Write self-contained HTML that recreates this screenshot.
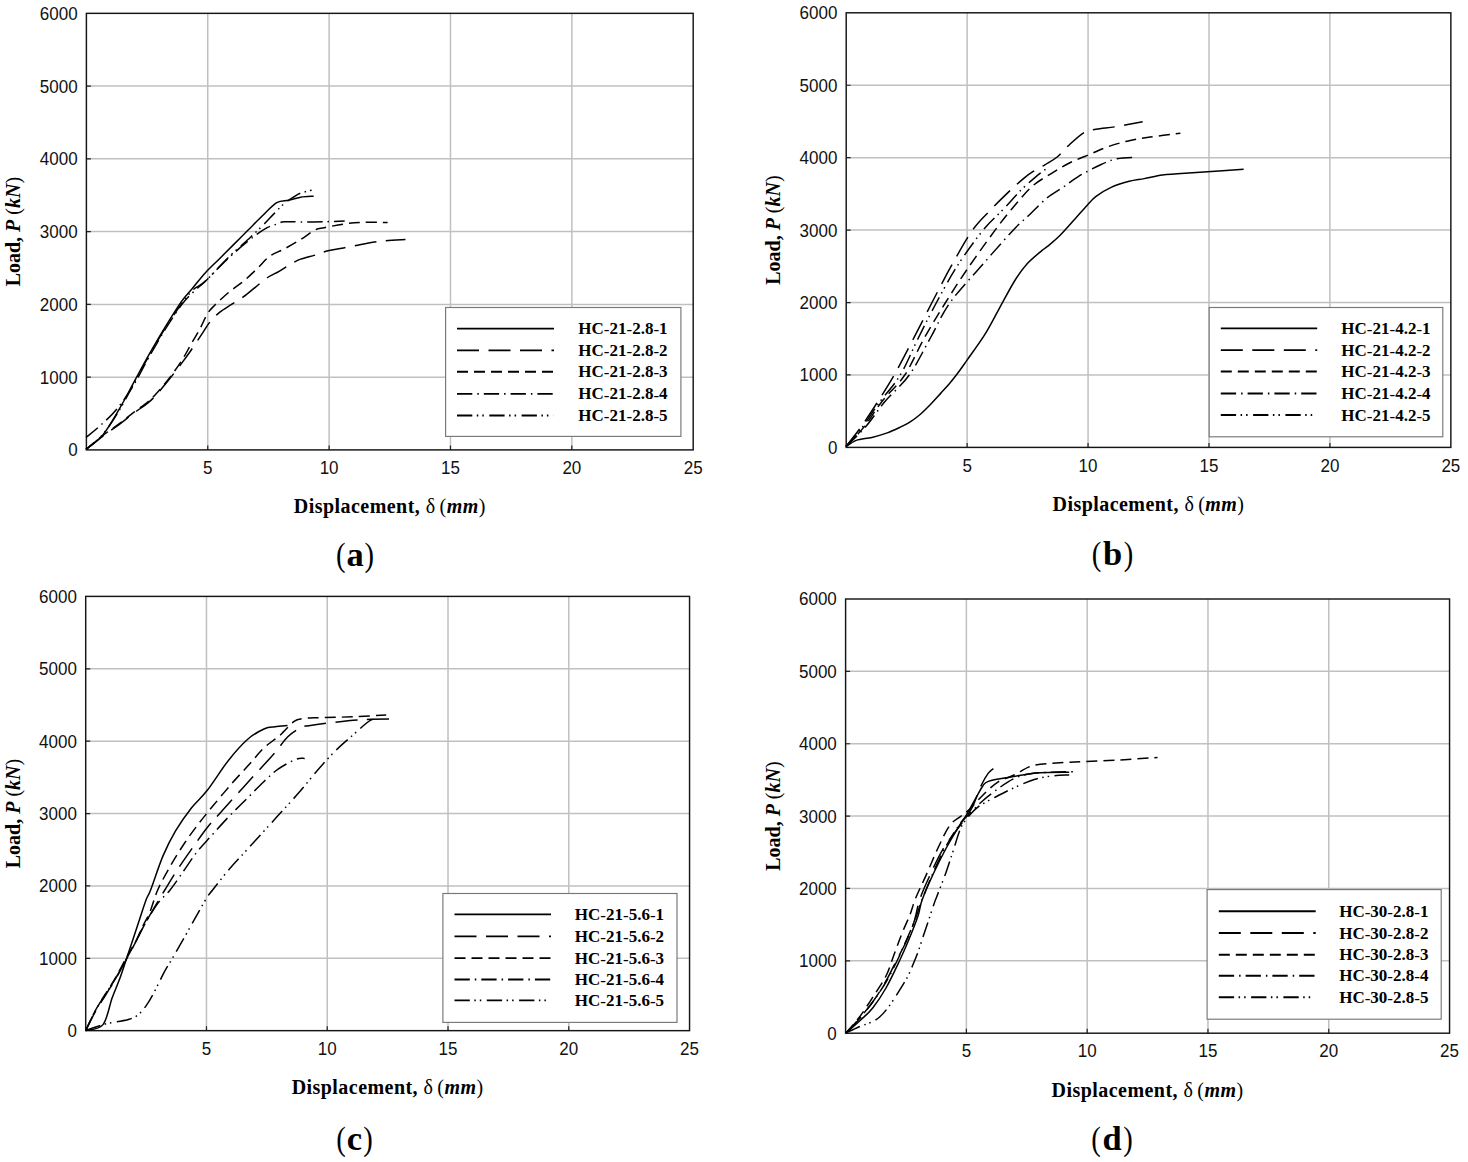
<!DOCTYPE html><html><head><meta charset="utf-8"><style>html,body{margin:0;padding:0;background:#fff;}body{width:1468px;height:1162px;overflow:hidden;}svg{display:block;}.tk{font-family:"Liberation Sans",sans-serif;font-size:17px;fill:#111;}.ax{font-family:"Liberation Serif",serif;font-size:20px;font-weight:bold;fill:#000;}.lg{font-family:"Liberation Serif",serif;font-size:17px;font-weight:bold;fill:#000;}.cp{font-family:"Liberation Serif",serif;font-size:34.5px;fill:#000;}</style></head><body>
<svg width="1468" height="1162" viewBox="0 0 1468 1162">
<rect x="0" y="0" width="1468" height="1162" fill="#fff"/>
<g stroke="#c0c0c0" stroke-width="1.5" fill="none"><line x1="207.76" y1="13.35" x2="207.76" y2="449.9"/><line x1="329.12" y1="13.35" x2="329.12" y2="449.9"/><line x1="450.48" y1="13.35" x2="450.48" y2="449.9"/><line x1="571.84" y1="13.35" x2="571.84" y2="449.9"/><line x1="86.4" y1="377.14" x2="693.2" y2="377.14"/><line x1="86.4" y1="304.38" x2="693.2" y2="304.38"/><line x1="86.4" y1="231.62" x2="693.2" y2="231.62"/><line x1="86.4" y1="158.87" x2="693.2" y2="158.87"/><line x1="86.4" y1="86.11" x2="693.2" y2="86.11"/></g>
<path d="M207.76 449.9V445.4M329.12 449.9V445.4M450.48 449.9V445.4M571.84 449.9V445.4M86.4 377.14H90.9M86.4 304.38H90.9M86.4 231.62H90.9M86.4 158.87H90.9M86.4 86.11H90.9" stroke="#222" stroke-width="1.2" fill="none"/>
<rect x="86.4" y="13.35" width="606.8" height="436.55" fill="none" stroke="#151515" stroke-width="1.45"/>
<text class="tk" transform="translate(77.6 456.3) scale(1 1.1)" text-anchor="end">0</text>
<text class="tk" transform="translate(77.6 383.54) scale(1 1.1)" text-anchor="end">1000</text>
<text class="tk" transform="translate(77.6 310.78) scale(1 1.1)" text-anchor="end">2000</text>
<text class="tk" transform="translate(77.6 238.03) scale(1 1.1)" text-anchor="end">3000</text>
<text class="tk" transform="translate(77.6 165.27) scale(1 1.1)" text-anchor="end">4000</text>
<text class="tk" transform="translate(77.6 92.51) scale(1 1.1)" text-anchor="end">5000</text>
<text class="tk" transform="translate(77.6 19.75) scale(1 1.1)" text-anchor="end">6000</text>
<text class="tk" transform="translate(207.76 474) scale(1 1.1)" text-anchor="middle">5</text>
<text class="tk" transform="translate(329.12 474) scale(1 1.1)" text-anchor="middle">10</text>
<text class="tk" transform="translate(450.48 474) scale(1 1.1)" text-anchor="middle">15</text>
<text class="tk" transform="translate(571.84 474) scale(1 1.1)" text-anchor="middle">20</text>
<text class="tk" transform="translate(693.2 474) scale(1 1.1)" text-anchor="middle">25</text>
<text class="ax" x="389.8" y="513.2" text-anchor="middle" letter-spacing="0.45">Displacement, <tspan font-weight="normal">δ </tspan><tspan font-weight="normal" dx="-1.5">(</tspan><tspan font-style="italic">mm</tspan><tspan font-weight="normal">)</tspan></text>
<text class="ax" transform="translate(20.4 231.62) rotate(-90)" x="0" y="0" text-anchor="middle">Load, <tspan font-style="italic">P</tspan> <tspan font-weight="normal">(</tspan><tspan font-style="italic">kN</tspan><tspan font-weight="normal">)</tspan></text>
<text class="cp" transform="translate(340.8 565.5) scale(0.83 1)" text-anchor="middle">(</text>
<text class="cp" x="355" y="565.5" text-anchor="middle" font-weight="bold">a</text>
<text class="cp" transform="translate(369.2 565.5) scale(0.83 1)" text-anchor="middle">)</text>
<path d="M86 449.41C88.78 447.03 97.13 441.86 102.69 435.11C108.25 428.35 114.21 417.62 119.38 408.88C124.54 400.14 128.92 391.4 133.68 382.66C138.45 373.91 142.82 365.57 147.99 356.43C153.15 347.29 159.12 336.96 164.68 327.82C170.24 318.68 176.6 308.35 181.37 301.59C186.14 294.84 189.32 292.06 193.29 287.29C197.26 282.52 200.84 277.75 205.21 272.98C209.58 268.22 214.75 263.45 219.51 258.68C224.28 253.91 229.05 249.14 233.82 244.37C238.59 239.6 243.36 234.84 248.13 230.07C252.89 225.3 257.66 220.33 262.43 215.76C267.2 211.19 272.36 205.23 276.74 202.65C281.11 200.07 284.68 201.18 288.66 200.27C292.63 199.35 296.41 197.84 300.58 197.17C304.75 196.49 311.51 196.37 313.69 196.21" fill="none" stroke="#000" stroke-width="1.5" stroke-linejoin="round"/>
<path d="M86 449.41C88.78 447.23 97.13 440.47 102.69 436.3C108.25 432.13 114.21 428.23 119.38 424.38C124.54 420.53 128.92 416.75 133.68 413.17C138.45 409.6 144.02 406.22 147.99 402.92C151.96 399.62 153.95 397.36 157.53 393.39C161.1 389.41 165.47 384.05 169.45 379.08C173.42 374.11 177.79 368.35 181.37 363.58C184.94 358.81 187.33 355.64 190.9 350.47C194.48 345.3 199.65 337.36 202.83 332.59C206 327.82 207.2 325.24 209.98 321.86C212.76 318.48 215.94 315.22 219.51 312.32C223.09 309.42 227.46 307.04 231.44 304.46C235.41 301.87 239.38 299.69 243.36 296.83C247.33 293.96 251.3 290.47 255.28 287.29C259.25 284.11 263.23 280.41 267.2 277.75C271.17 275.09 275.15 273.62 279.12 271.31C283.09 269.01 287.46 265.95 291.04 263.92C294.62 261.9 296.6 260.63 300.58 259.16C304.55 257.69 310.51 256.45 314.88 255.1C319.25 253.75 322.04 252.24 326.8 251.05C331.57 249.86 336.74 249.26 343.49 247.95C350.25 246.64 360.58 244.37 367.34 243.18C374.09 241.99 377.67 241.39 384.02 240.8C390.38 240.2 401.91 239.8 405.48 239.6" fill="none" stroke="#000" stroke-width="1.5" stroke-linejoin="round" stroke-dasharray="22 9.5"/>
<path d="M86 449.41C88.78 447.11 97.13 439.88 102.69 435.59C108.25 431.29 114.21 427.52 119.38 423.66C124.54 419.81 128.92 416.11 133.68 412.46C138.45 408.8 144.02 405.11 147.99 401.73C151.96 398.35 153.95 396.17 157.53 392.19C161.1 388.22 165.47 383.05 169.45 377.89C173.42 372.72 177.79 366.76 181.37 361.2C184.94 355.64 187.73 350.07 190.9 344.51C194.08 338.95 197.66 332.99 200.44 327.82C203.22 322.65 205.21 317.29 207.59 313.51C209.98 309.74 211.17 308.75 214.75 305.17C218.32 301.59 224.28 296.03 229.05 292.06C233.82 288.08 238.59 285.3 243.36 281.33C248.13 277.35 253.29 272.39 257.66 268.22C262.03 264.04 265.21 259.47 269.58 256.29C273.95 253.12 278.72 251.92 283.89 249.14C289.05 246.36 295.41 242.78 300.58 239.6C305.74 236.43 310.91 232.05 314.88 230.07C318.86 228.08 319.65 228.68 324.42 227.68C329.19 226.69 337.53 224.98 343.49 224.11C349.45 223.23 352.83 222.72 360.18 222.44C367.53 222.16 383.03 222.44 387.6 222.44" fill="none" stroke="#000" stroke-width="1.5" stroke-linejoin="round" stroke-dasharray="11 6"/>
<path d="M86 437.49C88.38 435.51 95.14 430.34 100.31 425.57C105.47 420.8 111.43 415.64 116.99 408.88C122.56 402.13 128.52 393.39 133.68 385.04C138.85 376.7 142.82 367.95 147.99 358.81C153.15 349.68 159.12 339.15 164.68 330.2C170.24 321.26 176.6 311.53 181.37 305.17C186.14 298.81 189.32 296.03 193.29 292.06C197.26 288.08 199.25 287.09 205.21 281.33C211.17 275.57 221.1 264.84 229.05 257.49C237 250.14 246.54 242.19 252.89 237.22C259.25 232.25 263.23 229.87 267.2 227.68C271.17 225.5 273.95 225.1 276.74 224.11C279.52 223.11 279.91 222.08 283.89 221.72C287.86 221.37 293.82 221.96 300.58 221.96C307.33 221.96 317.07 221.88 324.42 221.72C331.77 221.56 341.31 221.13 344.69 221.01" fill="none" stroke="#000" stroke-width="1.5" stroke-linejoin="round" stroke-dasharray="15.3 5 1.5 5"/>
<path d="M86 449.41C88.78 446.95 97.13 441.19 102.69 434.63C108.25 428.08 114.21 418.54 119.38 410.07C124.54 401.61 128.92 392.59 133.68 383.85C138.45 375.11 142.82 366.76 147.99 357.62C153.15 348.48 159.12 337.95 164.68 329.01C170.24 320.07 176.6 310.53 181.37 303.98C186.14 297.42 189.32 293.45 193.29 289.67C197.26 285.9 199.25 286.81 205.21 281.33C211.17 275.84 221.5 264.12 229.05 256.77C236.6 249.42 244.95 242.39 250.51 237.22C256.07 232.05 258.46 229.75 262.43 225.78C266.4 221.8 270.78 217.03 274.35 213.38C277.93 209.72 280.71 206.54 283.89 203.84C287.07 201.14 290.64 198.95 293.43 197.17C296.21 195.38 297.4 194.31 300.58 193.11C303.76 191.92 310.51 190.53 312.5 190.01" fill="none" stroke="#000" stroke-width="1.5" stroke-linejoin="round" stroke-dasharray="15.3 4.5 1.5 4 1.5 5.5"/>
<rect x="445.6" y="307.5" width="235.3" height="128.9" fill="#fff" stroke="#777" stroke-width="1.15"/>
<line x1="457" y1="328.6" x2="554" y2="328.6" stroke="#000" stroke-width="1.85"/>
<text class="lg" x="578.3" y="334.1">HC<tspan font-weight="normal" dy="1.2">-</tspan><tspan dy="-1.2">21</tspan><tspan font-weight="normal" dy="1.2">-</tspan><tspan dy="-1.2">2.8</tspan><tspan font-weight="normal" dy="1.2">-</tspan><tspan dy="-1.2">1</tspan></text>
<line x1="457" y1="350.4" x2="554" y2="350.4" stroke="#000" stroke-width="1.85" stroke-dasharray="22 9.5"/>
<text class="lg" x="578.3" y="355.9">HC<tspan font-weight="normal" dy="1.2">-</tspan><tspan dy="-1.2">21</tspan><tspan font-weight="normal" dy="1.2">-</tspan><tspan dy="-1.2">2.8</tspan><tspan font-weight="normal" dy="1.2">-</tspan><tspan dy="-1.2">2</tspan></text>
<line x1="457" y1="371.7" x2="554" y2="371.7" stroke="#000" stroke-width="1.85" stroke-dasharray="11 6"/>
<text class="lg" x="578.3" y="377.2">HC<tspan font-weight="normal" dy="1.2">-</tspan><tspan dy="-1.2">21</tspan><tspan font-weight="normal" dy="1.2">-</tspan><tspan dy="-1.2">2.8</tspan><tspan font-weight="normal" dy="1.2">-</tspan><tspan dy="-1.2">3</tspan></text>
<line x1="457" y1="393.8" x2="554" y2="393.8" stroke="#000" stroke-width="1.85" stroke-dasharray="15.3 5 1.5 5"/>
<text class="lg" x="578.3" y="399.3">HC<tspan font-weight="normal" dy="1.2">-</tspan><tspan dy="-1.2">21</tspan><tspan font-weight="normal" dy="1.2">-</tspan><tspan dy="-1.2">2.8</tspan><tspan font-weight="normal" dy="1.2">-</tspan><tspan dy="-1.2">4</tspan></text>
<line x1="457" y1="415.5" x2="554" y2="415.5" stroke="#000" stroke-width="1.85" stroke-dasharray="15.3 4.5 1.5 4 1.5 5.5"/>
<text class="lg" x="578.3" y="421">HC<tspan font-weight="normal" dy="1.2">-</tspan><tspan dy="-1.2">21</tspan><tspan font-weight="normal" dy="1.2">-</tspan><tspan dy="-1.2">2.8</tspan><tspan font-weight="normal" dy="1.2">-</tspan><tspan dy="-1.2">5</tspan></text>
<g stroke="#c0c0c0" stroke-width="1.5" fill="none"><line x1="967.13" y1="12.8" x2="967.13" y2="447.4"/><line x1="1088.06" y1="12.8" x2="1088.06" y2="447.4"/><line x1="1208.99" y1="12.8" x2="1208.99" y2="447.4"/><line x1="1329.92" y1="12.8" x2="1329.92" y2="447.4"/><line x1="846.2" y1="374.97" x2="1450.85" y2="374.97"/><line x1="846.2" y1="302.53" x2="1450.85" y2="302.53"/><line x1="846.2" y1="230.1" x2="1450.85" y2="230.1"/><line x1="846.2" y1="157.67" x2="1450.85" y2="157.67"/><line x1="846.2" y1="85.23" x2="1450.85" y2="85.23"/></g>
<path d="M967.13 447.4V442.9M1088.06 447.4V442.9M1208.99 447.4V442.9M1329.92 447.4V442.9M846.2 374.97H850.7M846.2 302.53H850.7M846.2 230.1H850.7M846.2 157.67H850.7M846.2 85.23H850.7" stroke="#222" stroke-width="1.2" fill="none"/>
<rect x="846.2" y="12.8" width="604.65" height="434.6" fill="none" stroke="#151515" stroke-width="1.45"/>
<text class="tk" transform="translate(837.4 453.8) scale(1 1.1)" text-anchor="end">0</text>
<text class="tk" transform="translate(837.4 381.37) scale(1 1.1)" text-anchor="end">1000</text>
<text class="tk" transform="translate(837.4 308.93) scale(1 1.1)" text-anchor="end">2000</text>
<text class="tk" transform="translate(837.4 236.5) scale(1 1.1)" text-anchor="end">3000</text>
<text class="tk" transform="translate(837.4 164.07) scale(1 1.1)" text-anchor="end">4000</text>
<text class="tk" transform="translate(837.4 91.63) scale(1 1.1)" text-anchor="end">5000</text>
<text class="tk" transform="translate(837.4 19.2) scale(1 1.1)" text-anchor="end">6000</text>
<text class="tk" transform="translate(967.13 471.5) scale(1 1.1)" text-anchor="middle">5</text>
<text class="tk" transform="translate(1088.06 471.5) scale(1 1.1)" text-anchor="middle">10</text>
<text class="tk" transform="translate(1208.99 471.5) scale(1 1.1)" text-anchor="middle">15</text>
<text class="tk" transform="translate(1329.92 471.5) scale(1 1.1)" text-anchor="middle">20</text>
<text class="tk" transform="translate(1450.85 471.5) scale(1 1.1)" text-anchor="middle">25</text>
<text class="ax" x="1148.53" y="510.7" text-anchor="middle" letter-spacing="0.45">Displacement, <tspan font-weight="normal">δ </tspan><tspan font-weight="normal" dx="-1.5">(</tspan><tspan font-style="italic">mm</tspan><tspan font-weight="normal">)</tspan></text>
<text class="ax" transform="translate(780.2 230.1) rotate(-90)" x="0" y="0" text-anchor="middle">Load, <tspan font-style="italic">P</tspan> <tspan font-weight="normal">(</tspan><tspan font-style="italic">kN</tspan><tspan font-weight="normal">)</tspan></text>
<text class="cp" transform="translate(1096.41 565.4) scale(0.83 1)" text-anchor="middle">(</text>
<text class="cp" x="1112.5" y="565.4" text-anchor="middle" font-weight="bold">b</text>
<text class="cp" transform="translate(1128.59 565.4) scale(0.83 1)" text-anchor="middle">)</text>
<path d="M846 446.74C847.71 445.68 851.92 441.97 856.24 440.41C860.56 438.86 866.74 438.65 871.91 437.4C877.08 436.14 882.65 434.54 887.27 432.88C891.89 431.22 895.86 429.27 899.62 427.46C903.39 425.65 906.4 424.24 909.86 422.04C913.33 419.83 916.94 417.17 920.41 414.2C923.87 411.24 927.24 407.78 930.65 404.26C934.07 400.75 937.78 396.53 940.89 393.12C944.01 389.7 946.57 387.04 949.33 383.78C952.09 380.51 954.6 377.35 957.46 373.53C960.32 369.72 961.98 367.31 966.5 360.88C971.02 354.46 979.05 343.81 984.57 334.97C990.1 326.14 994.62 316.9 999.64 307.86C1004.66 298.82 1010.18 288.03 1014.7 280.75C1019.22 273.47 1022.23 269.2 1026.75 264.18C1031.27 259.16 1038.3 253.64 1041.81 250.62C1045.33 247.61 1044.82 248.62 1047.84 246.11C1050.85 243.6 1055.37 240.08 1059.89 235.56C1064.41 231.04 1070.43 224.01 1074.95 218.99C1079.47 213.97 1083.48 209.2 1087 205.44C1090.51 201.67 1092.02 199.41 1096.04 196.4C1100.05 193.39 1105.58 189.87 1111.1 187.36C1116.62 184.85 1123.65 182.79 1129.17 181.34C1134.7 179.88 1138.71 179.68 1144.24 178.63C1149.76 177.57 1156.79 175.81 1162.31 175.01C1167.83 174.21 1169.84 174.36 1177.37 173.81C1184.91 173.25 1196.45 172.45 1207.5 171.7C1218.54 170.94 1237.62 169.69 1243.65 169.29" fill="none" stroke="#000" stroke-width="1.5" stroke-linejoin="round"/>
<path d="M846 446.44C848.51 443.17 856.04 433.88 861.06 426.86C866.08 419.83 870.6 412.9 876.12 404.26C881.65 395.63 888.17 385.58 894.2 375.04C900.22 364.5 906 353.05 912.27 341C918.55 328.95 925.33 315.29 931.86 302.74C938.38 290.19 944.66 277.79 951.44 265.69C958.22 253.59 966 239.43 972.52 230.14C979.05 220.85 984.57 216.33 990.6 209.96C996.62 203.58 1003.15 197.15 1008.67 191.88C1014.2 186.61 1019.72 181.69 1023.74 178.32C1027.75 174.96 1029.26 173.96 1032.77 171.7C1036.29 169.44 1040.81 167.18 1044.82 164.77C1048.84 162.36 1052.86 160.5 1056.87 157.24C1060.89 153.97 1064.41 149.3 1068.92 145.19C1073.44 141.07 1079.47 135.2 1083.99 132.53C1088.51 129.87 1090.51 130.23 1096.04 129.22C1101.56 128.22 1109.34 127.77 1117.12 126.51C1124.91 125.25 1138.46 122.49 1142.73 121.69" fill="none" stroke="#000" stroke-width="1.5" stroke-linejoin="round" stroke-dasharray="22 9.5"/>
<path d="M846 446.44C849.01 443.17 858.05 434.39 864.07 426.86C870.1 419.32 875.37 409.88 882.15 401.25C888.93 392.61 897.71 385.58 904.74 375.04C911.77 364.5 917.55 350.04 924.32 337.99C931.1 325.94 938.38 314.04 945.41 302.74C952.44 291.44 958.22 282.31 966.5 270.21C974.78 258.11 987.08 240.93 995.12 230.14C1003.15 219.34 1008.42 212.82 1014.7 205.44C1020.98 198.06 1026.75 191.13 1032.77 185.86C1038.8 180.58 1044.82 177.57 1050.85 173.81C1056.87 170.04 1062.4 166.53 1068.92 163.26C1075.45 160 1083.48 156.99 1090.01 154.22C1096.54 151.46 1101.56 148.95 1108.09 146.69C1114.61 144.43 1122.14 142.28 1129.17 140.67C1136.2 139.06 1141.73 138.31 1150.26 137.05C1158.8 135.8 1175.37 133.79 1180.39 133.14" fill="none" stroke="#000" stroke-width="1.5" stroke-linejoin="round" stroke-dasharray="11 6"/>
<path d="M846 446.44C849.26 443.17 859.05 434.39 865.58 426.86C872.11 419.32 877.88 409.88 885.16 401.25C892.44 392.61 901.73 385.58 909.26 375.04C916.79 364.5 923.57 350.04 930.35 337.99C937.13 325.94 941.4 314.79 949.93 302.74C958.47 290.69 971.02 277.79 981.56 265.69C992.11 253.59 1005.16 238.67 1013.19 230.14C1021.23 221.6 1024.19 219.8 1029.76 214.47C1035.34 209.15 1041.11 202.73 1046.63 198.21C1052.15 193.69 1057.63 190.98 1062.9 187.36C1068.17 183.75 1071.89 180.33 1078.26 176.52C1084.64 172.7 1094.68 167.43 1101.16 164.47C1107.63 161.51 1111.2 159.95 1117.12 158.74C1123.05 157.54 1133.44 157.49 1136.71 157.24" fill="none" stroke="#000" stroke-width="1.5" stroke-linejoin="round" stroke-dasharray="15.3 5 1.5 5"/>
<path d="M846 446.44C848.76 443.17 857.05 434.14 862.57 426.86C868.09 419.58 872.86 411.39 879.14 402.76C885.41 394.12 893.7 385.84 900.22 375.04C906.75 364.25 912.27 350.04 918.3 337.99C924.32 325.94 929.85 314.79 936.37 302.74C942.9 290.69 949.68 277.79 957.46 265.69C965.24 253.59 975.54 239.43 983.07 230.14C990.6 220.85 996.37 216.58 1002.65 209.96C1008.93 203.33 1015.2 195.9 1020.72 190.37C1026.25 184.85 1031.17 180.68 1035.79 176.82C1040.41 172.95 1046.33 168.79 1048.44 167.18" fill="none" stroke="#000" stroke-width="1.5" stroke-linejoin="round" stroke-dasharray="15.3 4.5 1.5 4 1.5 5.5"/>
<rect x="1209.2" y="307.5" width="233.6" height="129.3" fill="#fff" stroke="#777" stroke-width="1.15"/>
<line x1="1220.8" y1="328.3" x2="1317.2" y2="328.3" stroke="#000" stroke-width="1.85"/>
<text class="lg" x="1341.3" y="333.8">HC<tspan font-weight="normal" dy="1.2">-</tspan><tspan dy="-1.2">21</tspan><tspan font-weight="normal" dy="1.2">-</tspan><tspan dy="-1.2">4.2</tspan><tspan font-weight="normal" dy="1.2">-</tspan><tspan dy="-1.2">1</tspan></text>
<line x1="1220.8" y1="350.1" x2="1317.2" y2="350.1" stroke="#000" stroke-width="1.85" stroke-dasharray="22 9.5"/>
<text class="lg" x="1341.3" y="355.6">HC<tspan font-weight="normal" dy="1.2">-</tspan><tspan dy="-1.2">21</tspan><tspan font-weight="normal" dy="1.2">-</tspan><tspan dy="-1.2">4.2</tspan><tspan font-weight="normal" dy="1.2">-</tspan><tspan dy="-1.2">2</tspan></text>
<line x1="1220.8" y1="371.5" x2="1317.2" y2="371.5" stroke="#000" stroke-width="1.85" stroke-dasharray="11 6"/>
<text class="lg" x="1341.3" y="377">HC<tspan font-weight="normal" dy="1.2">-</tspan><tspan dy="-1.2">21</tspan><tspan font-weight="normal" dy="1.2">-</tspan><tspan dy="-1.2">4.2</tspan><tspan font-weight="normal" dy="1.2">-</tspan><tspan dy="-1.2">3</tspan></text>
<line x1="1220.8" y1="393.5" x2="1317.2" y2="393.5" stroke="#000" stroke-width="1.85" stroke-dasharray="15.3 5 1.5 5"/>
<text class="lg" x="1341.3" y="399">HC<tspan font-weight="normal" dy="1.2">-</tspan><tspan dy="-1.2">21</tspan><tspan font-weight="normal" dy="1.2">-</tspan><tspan dy="-1.2">4.2</tspan><tspan font-weight="normal" dy="1.2">-</tspan><tspan dy="-1.2">4</tspan></text>
<line x1="1220.8" y1="415" x2="1317.2" y2="415" stroke="#000" stroke-width="1.85" stroke-dasharray="15.3 4.5 1.5 4 1.5 5.5"/>
<text class="lg" x="1341.3" y="420.5">HC<tspan font-weight="normal" dy="1.2">-</tspan><tspan dy="-1.2">21</tspan><tspan font-weight="normal" dy="1.2">-</tspan><tspan dy="-1.2">4.2</tspan><tspan font-weight="normal" dy="1.2">-</tspan><tspan dy="-1.2">5</tspan></text>
<g stroke="#c0c0c0" stroke-width="1.5" fill="none"><line x1="206.47" y1="596.4" x2="206.47" y2="1030.65"/><line x1="327.24" y1="596.4" x2="327.24" y2="1030.65"/><line x1="448.01" y1="596.4" x2="448.01" y2="1030.65"/><line x1="568.78" y1="596.4" x2="568.78" y2="1030.65"/><line x1="85.7" y1="958.28" x2="689.55" y2="958.28"/><line x1="85.7" y1="885.9" x2="689.55" y2="885.9"/><line x1="85.7" y1="813.53" x2="689.55" y2="813.53"/><line x1="85.7" y1="741.15" x2="689.55" y2="741.15"/><line x1="85.7" y1="668.78" x2="689.55" y2="668.78"/></g>
<path d="M206.47 1030.65V1026.15M327.24 1030.65V1026.15M448.01 1030.65V1026.15M568.78 1030.65V1026.15M85.7 958.28H90.2M85.7 885.9H90.2M85.7 813.53H90.2M85.7 741.15H90.2M85.7 668.78H90.2" stroke="#222" stroke-width="1.2" fill="none"/>
<rect x="85.7" y="596.4" width="603.85" height="434.25" fill="none" stroke="#151515" stroke-width="1.45"/>
<text class="tk" transform="translate(76.9 1037.05) scale(1 1.1)" text-anchor="end">0</text>
<text class="tk" transform="translate(76.9 964.68) scale(1 1.1)" text-anchor="end">1000</text>
<text class="tk" transform="translate(76.9 892.3) scale(1 1.1)" text-anchor="end">2000</text>
<text class="tk" transform="translate(76.9 819.93) scale(1 1.1)" text-anchor="end">3000</text>
<text class="tk" transform="translate(76.9 747.55) scale(1 1.1)" text-anchor="end">4000</text>
<text class="tk" transform="translate(76.9 675.18) scale(1 1.1)" text-anchor="end">5000</text>
<text class="tk" transform="translate(76.9 602.8) scale(1 1.1)" text-anchor="end">6000</text>
<text class="tk" transform="translate(206.47 1054.75) scale(1 1.1)" text-anchor="middle">5</text>
<text class="tk" transform="translate(327.24 1054.75) scale(1 1.1)" text-anchor="middle">10</text>
<text class="tk" transform="translate(448.01 1054.75) scale(1 1.1)" text-anchor="middle">15</text>
<text class="tk" transform="translate(568.78 1054.75) scale(1 1.1)" text-anchor="middle">20</text>
<text class="tk" transform="translate(689.55 1054.75) scale(1 1.1)" text-anchor="middle">25</text>
<text class="ax" x="387.62" y="1093.95" text-anchor="middle" letter-spacing="0.45">Displacement, <tspan font-weight="normal">δ </tspan><tspan font-weight="normal" dx="-1.5">(</tspan><tspan font-style="italic">mm</tspan><tspan font-weight="normal">)</tspan></text>
<text class="ax" transform="translate(19.7 813.53) rotate(-90)" x="0" y="0" text-anchor="middle">Load, <tspan font-style="italic">P</tspan> <tspan font-weight="normal">(</tspan><tspan font-style="italic">kN</tspan><tspan font-weight="normal">)</tspan></text>
<text class="cp" transform="translate(341.1 1150) scale(0.83 1)" text-anchor="middle">(</text>
<text class="cp" x="354.5" y="1150" text-anchor="middle" font-weight="bold">c</text>
<text class="cp" transform="translate(367.9 1150) scale(0.83 1)" text-anchor="middle">)</text>
<path d="M85.75 1030.5C88.62 1029.52 98.59 1030.07 103 1024.6C107.41 1019.13 109.37 1005.45 112.2 997.7C115.03 989.95 117.6 984.63 120 978.1C122.4 971.57 124.42 965.03 126.6 958.5C128.78 951.97 130.93 945.45 133.1 938.9C135.27 932.35 137.42 925.75 139.6 919.2C141.78 912.65 144.37 904.47 146.2 899.6C148.03 894.73 147.8 897.28 150.6 890C153.4 882.72 158.87 865.72 163 855.9C167.13 846.08 170.67 839.08 175.4 831.1C180.13 823.12 186.08 814.8 191.4 808C196.72 801.2 201.1 798.27 207.3 790.3C213.5 782.33 221.82 768.75 228.6 760.2C235.38 751.65 242.02 744.23 248 739C253.98 733.77 260 730.83 264.5 728.8C269 726.77 271.17 727.33 275 726.8C278.83 726.27 285.42 725.8 287.5 725.6" fill="none" stroke="#000" stroke-width="1.5" stroke-linejoin="round"/>
<path d="M85.75 1030.5C87.33 1027.42 91.89 1017.92 95.2 1012C98.51 1006.08 102.12 1000.67 105.6 995C109.08 989.33 112.6 984 116.1 978C119.6 972 123.33 965 126.6 959C129.87 953 132.87 947.5 135.7 942C138.53 936.5 140.33 932 143.6 926C146.87 920 151.77 912 155.3 906C158.83 900 161.15 896 164.8 890C168.45 884 172.48 877.17 177.2 870C181.92 862.83 188.08 854.08 193.1 847C198.12 839.92 202.87 833.1 207.3 827.5C211.73 821.9 214.68 819 219.7 813.4C224.72 807.8 231.5 800.4 237.4 793.9C243.3 787.4 248.9 781.2 255.1 774.4C261.3 767.6 269.15 759.37 274.6 753.1C280.05 746.83 283.35 741.07 287.8 736.8C292.25 732.53 297.82 729.35 301.3 727.5C304.78 725.65 303.8 726.5 308.7 725.7C313.6 724.9 321.72 723.72 330.7 722.7C339.68 721.68 351.97 720.22 362.6 719.6C373.23 718.98 389.18 719.1 394.5 719" fill="none" stroke="#000" stroke-width="1.5" stroke-linejoin="round" stroke-dasharray="22 9.5"/>
<path d="M85.75 1030.5C87.33 1027.22 91.89 1016.92 95.2 1010.8C98.51 1004.68 102.12 999.47 105.6 993.8C109.08 988.13 112.6 982.9 116.1 976.8C119.6 970.7 123.33 963.08 126.6 957.2C129.87 951.32 132.87 946.95 135.7 941.5C138.53 936.05 141.22 929.42 143.6 924.5C145.98 919.58 147.65 917.75 150 912C152.35 906.25 154.35 897.58 157.7 890C161.05 882.42 165.67 874.25 170.1 866.5C174.53 858.75 179.58 850.58 184.3 843.5C189.02 836.42 193.68 830.2 198.4 824C203.12 817.8 206.98 813.1 212.6 806.3C218.22 799.5 225.9 790.28 232.1 783.2C238.3 776.12 244.48 769.7 249.8 763.8C255.12 757.9 258.98 752.53 264 747.8C269.02 743.07 274.88 739.82 279.9 735.4C284.92 730.98 290.25 724.1 294.1 721.3C297.95 718.5 299.17 719.2 303 718.6C306.83 718 308.85 718 317.1 717.7C325.35 717.4 340.98 717.25 352.5 716.8C364.02 716.35 380.58 715.3 386.2 715" fill="none" stroke="#000" stroke-width="1.5" stroke-linejoin="round" stroke-dasharray="11 6"/>
<path d="M85.75 1030.5C87.33 1027.25 91.89 1017.08 95.2 1011C98.51 1004.92 102.12 999.58 105.6 994C109.08 988.42 112.6 983.42 116.1 977.5C119.6 971.58 123.28 964.58 126.6 958.5C129.92 952.42 132.77 947.08 136 941C139.23 934.92 142.33 928.33 146 922C149.67 915.67 153.98 908.33 158 903C162.02 897.67 165.72 895.5 170.1 890C174.48 884.5 179.87 876.28 184.3 870C188.73 863.72 192.28 857.9 196.7 852.3C201.12 846.7 205.48 842.3 210.8 836.4C216.12 830.5 222.68 823.1 228.6 816.9C234.52 810.7 240.4 805.1 246.3 799.2C252.2 793.3 258.7 786.52 264 781.5C269.3 776.48 272.78 772.8 278.1 769.1C283.42 765.4 291.47 761.08 295.9 759.3C300.33 757.52 303.23 758.55 304.7 758.4" fill="none" stroke="#000" stroke-width="1.5" stroke-linejoin="round" stroke-dasharray="15.3 5 1.5 5"/>
<path d="M85.75 1030.5C88.62 1029.52 97.94 1026.02 103 1024.6C108.06 1023.18 111.73 1022.88 116.1 1022C120.47 1021.12 125.5 1020.52 129.2 1019.3C132.9 1018.08 135.47 1016.98 138.3 1014.7C141.13 1012.42 143.58 1009.3 146.2 1005.6C148.82 1001.9 150.95 998.17 154 992.5C157.05 986.83 161.45 977.27 164.5 971.6C167.55 965.93 169.25 963.73 172.3 958.5C175.35 953.27 179.08 946.75 182.8 940.2C186.52 933.65 190.67 926.18 194.6 919.2C198.53 912.22 203.4 903.17 206.4 898.3C209.4 893.43 208.9 894.72 212.6 890C216.3 885.28 222.98 876.58 228.6 870C234.22 863.42 240.4 856.98 246.3 850.5C252.2 844.02 258.1 837.58 264 831.1C269.9 824.62 275.8 818.1 281.7 811.6C287.6 805.1 293.5 798.9 299.4 792.1C305.3 785.3 311.2 777.58 317.1 770.8C323 764.02 328.9 757.3 334.8 751.4C340.7 745.5 346.97 740.3 352.5 735.4C358.03 730.5 364.25 724.8 368 722C371.75 719.2 373.83 719.17 375 718.6" fill="none" stroke="#000" stroke-width="1.5" stroke-linejoin="round" stroke-dasharray="15.3 4.5 1.5 4 1.5 5.5"/>
<rect x="442.9" y="893.5" width="234.1" height="128.9" fill="#fff" stroke="#777" stroke-width="1.15"/>
<line x1="454.5" y1="914.4" x2="551" y2="914.4" stroke="#000" stroke-width="1.85"/>
<text class="lg" x="574.8" y="919.9">HC<tspan font-weight="normal" dy="1.2">-</tspan><tspan dy="-1.2">21</tspan><tspan font-weight="normal" dy="1.2">-</tspan><tspan dy="-1.2">5.6</tspan><tspan font-weight="normal" dy="1.2">-</tspan><tspan dy="-1.2">1</tspan></text>
<line x1="454.5" y1="936.4" x2="551" y2="936.4" stroke="#000" stroke-width="1.85" stroke-dasharray="22 9.5"/>
<text class="lg" x="574.8" y="941.9">HC<tspan font-weight="normal" dy="1.2">-</tspan><tspan dy="-1.2">21</tspan><tspan font-weight="normal" dy="1.2">-</tspan><tspan dy="-1.2">5.6</tspan><tspan font-weight="normal" dy="1.2">-</tspan><tspan dy="-1.2">2</tspan></text>
<line x1="454.5" y1="958.1" x2="551" y2="958.1" stroke="#000" stroke-width="1.85" stroke-dasharray="11 6"/>
<text class="lg" x="574.8" y="963.6">HC<tspan font-weight="normal" dy="1.2">-</tspan><tspan dy="-1.2">21</tspan><tspan font-weight="normal" dy="1.2">-</tspan><tspan dy="-1.2">5.6</tspan><tspan font-weight="normal" dy="1.2">-</tspan><tspan dy="-1.2">3</tspan></text>
<line x1="454.5" y1="979.5" x2="551" y2="979.5" stroke="#000" stroke-width="1.85" stroke-dasharray="15.3 5 1.5 5"/>
<text class="lg" x="574.8" y="985">HC<tspan font-weight="normal" dy="1.2">-</tspan><tspan dy="-1.2">21</tspan><tspan font-weight="normal" dy="1.2">-</tspan><tspan dy="-1.2">5.6</tspan><tspan font-weight="normal" dy="1.2">-</tspan><tspan dy="-1.2">4</tspan></text>
<line x1="454.5" y1="1000.4" x2="551" y2="1000.4" stroke="#000" stroke-width="1.85" stroke-dasharray="15.3 4.5 1.5 4 1.5 5.5"/>
<text class="lg" x="574.8" y="1005.9">HC<tspan font-weight="normal" dy="1.2">-</tspan><tspan dy="-1.2">21</tspan><tspan font-weight="normal" dy="1.2">-</tspan><tspan dy="-1.2">5.6</tspan><tspan font-weight="normal" dy="1.2">-</tspan><tspan dy="-1.2">5</tspan></text>
<g stroke="#c0c0c0" stroke-width="1.5" fill="none"><line x1="966.39" y1="599" x2="966.39" y2="1033.2"/><line x1="1087.18" y1="599" x2="1087.18" y2="1033.2"/><line x1="1207.97" y1="599" x2="1207.97" y2="1033.2"/><line x1="1328.76" y1="599" x2="1328.76" y2="1033.2"/><line x1="845.6" y1="960.83" x2="1449.55" y2="960.83"/><line x1="845.6" y1="888.47" x2="1449.55" y2="888.47"/><line x1="845.6" y1="816.1" x2="1449.55" y2="816.1"/><line x1="845.6" y1="743.73" x2="1449.55" y2="743.73"/><line x1="845.6" y1="671.37" x2="1449.55" y2="671.37"/></g>
<path d="M966.39 1033.2V1028.7M1087.18 1033.2V1028.7M1207.97 1033.2V1028.7M1328.76 1033.2V1028.7M845.6 960.83H850.1M845.6 888.47H850.1M845.6 816.1H850.1M845.6 743.73H850.1M845.6 671.37H850.1" stroke="#222" stroke-width="1.2" fill="none"/>
<rect x="845.6" y="599" width="603.95" height="434.2" fill="none" stroke="#151515" stroke-width="1.45"/>
<text class="tk" transform="translate(836.8 1039.6) scale(1 1.1)" text-anchor="end">0</text>
<text class="tk" transform="translate(836.8 967.23) scale(1 1.1)" text-anchor="end">1000</text>
<text class="tk" transform="translate(836.8 894.87) scale(1 1.1)" text-anchor="end">2000</text>
<text class="tk" transform="translate(836.8 822.5) scale(1 1.1)" text-anchor="end">3000</text>
<text class="tk" transform="translate(836.8 750.13) scale(1 1.1)" text-anchor="end">4000</text>
<text class="tk" transform="translate(836.8 677.77) scale(1 1.1)" text-anchor="end">5000</text>
<text class="tk" transform="translate(836.8 605.4) scale(1 1.1)" text-anchor="end">6000</text>
<text class="tk" transform="translate(966.39 1057.3) scale(1 1.1)" text-anchor="middle">5</text>
<text class="tk" transform="translate(1087.18 1057.3) scale(1 1.1)" text-anchor="middle">10</text>
<text class="tk" transform="translate(1207.97 1057.3) scale(1 1.1)" text-anchor="middle">15</text>
<text class="tk" transform="translate(1328.76 1057.3) scale(1 1.1)" text-anchor="middle">20</text>
<text class="tk" transform="translate(1449.55 1057.3) scale(1 1.1)" text-anchor="middle">25</text>
<text class="ax" x="1147.58" y="1096.5" text-anchor="middle" letter-spacing="0.45">Displacement, <tspan font-weight="normal">δ </tspan><tspan font-weight="normal" dx="-1.5">(</tspan><tspan font-style="italic">mm</tspan><tspan font-weight="normal">)</tspan></text>
<text class="ax" transform="translate(779.6 816.1) rotate(-90)" x="0" y="0" text-anchor="middle">Load, <tspan font-style="italic">P</tspan> <tspan font-weight="normal">(</tspan><tspan font-style="italic">kN</tspan><tspan font-weight="normal">)</tspan></text>
<text class="cp" transform="translate(1095.91 1150.2) scale(0.83 1)" text-anchor="middle">(</text>
<text class="cp" x="1112" y="1150.2" text-anchor="middle" font-weight="bold">d</text>
<text class="cp" transform="translate(1128.09 1150.2) scale(0.83 1)" text-anchor="middle">)</text>
<path d="M846 1033C848.45 1030.83 856.25 1024.17 860.7 1020C865.15 1015.83 868.48 1013.33 872.7 1008C876.92 1002.67 881.57 995.78 886 988C890.43 980.22 895.52 969.3 899.3 961.3C903.08 953.3 905.58 947.55 908.7 940C911.82 932.45 915.77 922.67 918 916C920.23 909.33 919.58 906.95 922.1 900C924.62 893.05 929.12 882.88 933.1 874.3C937.08 865.72 941.7 856.48 946 848.5C950.3 840.52 955.53 831.92 958.9 826.4C962.27 820.88 963.45 819.98 966.2 815.4C968.95 810.82 972.63 803.8 975.4 798.9C978.17 794 980.65 788.92 982.8 786C984.95 783.08 984.32 782.78 988.3 781.4C992.28 780.02 999.97 778.93 1006.7 777.7C1013.43 776.47 1023.18 774.83 1028.7 774C1034.22 773.17 1033.05 773 1039.8 772.7C1046.55 772.4 1064.3 772.28 1069.2 772.2" fill="none" stroke="#000" stroke-width="1.5" stroke-linejoin="round"/>
<path d="M846 1033C848.22 1030.67 854.85 1024.17 859.3 1019C863.75 1013.83 868.25 1008.33 872.7 1002C877.15 995.67 882 988 886 981C890 974 893.37 966.5 896.7 960C900.03 953.5 903.12 948.33 906 942C908.88 935.67 911.63 929.3 914 922C916.37 914.7 917.32 906.47 920.2 898.2C923.08 889.93 927.62 880.37 931.3 872.4C934.98 864.43 938.32 857.13 942.3 850.4C946.28 843.67 951.22 837.53 955.2 832C959.18 826.47 963.13 821.8 966.2 817.2C969.27 812.6 971.15 809.6 973.6 804.4C976.05 799.2 978.45 791.22 980.9 786C983.35 780.78 986 776.17 988.3 773.1C990.6 770.03 993.63 768.52 994.7 767.6" fill="none" stroke="#000" stroke-width="1.5" stroke-linejoin="round" stroke-dasharray="22 9.5"/>
<path d="M846 1033C848.22 1030.38 854.85 1023.25 859.3 1017.3C863.75 1011.35 868.25 1004.18 872.7 997.3C877.15 990.42 882.45 983.1 886 976C889.55 968.9 891.33 961.82 894 954.7C896.67 947.58 899.33 939.97 902 933.3C904.67 926.63 907.73 920.55 910 914.7C912.27 908.85 912.98 904.63 915.6 898.2C918.22 891.77 921.87 884.68 925.7 876.1C929.53 867.52 934.6 855.13 938.6 846.7C942.6 838.27 946.02 830.57 949.7 825.5C953.38 820.43 957.33 819.05 960.7 816.3C964.07 813.55 966.22 812.52 969.9 809C973.58 805.48 978.2 799.65 982.8 795.2C987.4 790.75 992.3 785.67 997.5 782.3C1002.7 778.93 1008.18 777.77 1014 775C1019.82 772.23 1025.35 767.7 1032.4 765.7C1039.45 763.7 1047.72 763.67 1056.3 763C1064.88 762.33 1073.17 762.22 1083.9 761.7C1094.63 761.18 1108.43 760.6 1120.7 759.9C1132.97 759.2 1151.37 757.9 1157.5 757.5" fill="none" stroke="#000" stroke-width="1.5" stroke-linejoin="round" stroke-dasharray="11 6"/>
<path d="M846 1033C848.22 1030.58 854.85 1023.67 859.3 1018.5C863.75 1013.33 868.25 1008.08 872.7 1002C877.15 995.92 881.95 988.83 886 982C890.05 975.17 893.67 967.83 897 961C900.33 954.17 903 947.83 906 941C909 934.17 912.33 926.83 915 920C917.67 913.17 918.68 908.55 922 900C925.32 891.45 930.6 878.2 934.9 868.7C939.2 859.2 943.5 850.65 947.8 843C952.1 835.35 957.02 827.7 960.7 822.8C964.38 817.9 966.22 817.28 969.9 813.6C973.58 809.92 977.9 805 982.8 800.7C987.7 796.4 994.1 791.48 999.3 787.8C1004.5 784.12 1009.1 780.9 1014 778.6C1018.9 776.3 1022.57 775.07 1028.7 774C1034.83 772.93 1043.13 772.6 1050.8 772.2C1058.47 771.8 1070.72 771.7 1074.7 771.6" fill="none" stroke="#000" stroke-width="1.5" stroke-linejoin="round" stroke-dasharray="15.3 5 1.5 5"/>
<path d="M846 1033C848.22 1031.95 855.3 1028.42 859.3 1026.7C863.3 1024.98 866.67 1024.27 870 1022.7C873.33 1021.13 876.18 1019.97 879.3 1017.3C882.42 1014.63 885.37 1011.13 888.7 1006.7C892.03 1002.27 896.2 995.6 899.3 990.7C902.4 985.8 905.07 981.53 907.3 977.3C909.53 973.07 910.92 969.52 912.7 965.3C914.48 961.08 916.23 956.88 918 952C919.77 947.12 921.52 941.33 923.3 936C925.08 930.67 926.92 925.33 928.7 920C930.48 914.67 932.62 908 934 904C935.38 900 935 901.27 937 896C939 890.73 943.28 880 946 872.4C948.72 864.8 950.85 857.75 953.3 850.4C955.75 843.05 958.25 833.83 960.7 828.3C963.15 822.77 964.93 820.88 968 817.2C971.07 813.52 974.5 809.57 979.1 806.2C983.7 802.83 989.78 800.07 995.6 797C1001.42 793.93 1007.55 790.72 1014 787.8C1020.45 784.88 1027.85 781.48 1034.3 779.5C1040.75 777.52 1046.88 776.65 1052.7 775.9C1058.52 775.15 1066.45 775.15 1069.2 775" fill="none" stroke="#000" stroke-width="1.5" stroke-linejoin="round" stroke-dasharray="15.3 4.5 1.5 4 1.5 5.5"/>
<rect x="1207.1" y="889.6" width="234.1" height="129.6" fill="#fff" stroke="#777" stroke-width="1.15"/>
<line x1="1218.8" y1="911.2" x2="1315.7" y2="911.2" stroke="#000" stroke-width="1.85"/>
<text class="lg" x="1339.2" y="916.7">HC<tspan font-weight="normal" dy="1.2">-</tspan><tspan dy="-1.2">30</tspan><tspan font-weight="normal" dy="1.2">-</tspan><tspan dy="-1.2">2.8</tspan><tspan font-weight="normal" dy="1.2">-</tspan><tspan dy="-1.2">1</tspan></text>
<line x1="1218.8" y1="933" x2="1315.7" y2="933" stroke="#000" stroke-width="1.85" stroke-dasharray="22 9.5"/>
<text class="lg" x="1339.2" y="938.5">HC<tspan font-weight="normal" dy="1.2">-</tspan><tspan dy="-1.2">30</tspan><tspan font-weight="normal" dy="1.2">-</tspan><tspan dy="-1.2">2.8</tspan><tspan font-weight="normal" dy="1.2">-</tspan><tspan dy="-1.2">2</tspan></text>
<line x1="1218.8" y1="954.7" x2="1315.7" y2="954.7" stroke="#000" stroke-width="1.85" stroke-dasharray="11 6"/>
<text class="lg" x="1339.2" y="960.2">HC<tspan font-weight="normal" dy="1.2">-</tspan><tspan dy="-1.2">30</tspan><tspan font-weight="normal" dy="1.2">-</tspan><tspan dy="-1.2">2.8</tspan><tspan font-weight="normal" dy="1.2">-</tspan><tspan dy="-1.2">3</tspan></text>
<line x1="1218.8" y1="975.7" x2="1315.7" y2="975.7" stroke="#000" stroke-width="1.85" stroke-dasharray="15.3 5 1.5 5"/>
<text class="lg" x="1339.2" y="981.2">HC<tspan font-weight="normal" dy="1.2">-</tspan><tspan dy="-1.2">30</tspan><tspan font-weight="normal" dy="1.2">-</tspan><tspan dy="-1.2">2.8</tspan><tspan font-weight="normal" dy="1.2">-</tspan><tspan dy="-1.2">4</tspan></text>
<line x1="1218.8" y1="997.2" x2="1315.7" y2="997.2" stroke="#000" stroke-width="1.85" stroke-dasharray="15.3 4.5 1.5 4 1.5 5.5"/>
<text class="lg" x="1339.2" y="1002.7">HC<tspan font-weight="normal" dy="1.2">-</tspan><tspan dy="-1.2">30</tspan><tspan font-weight="normal" dy="1.2">-</tspan><tspan dy="-1.2">2.8</tspan><tspan font-weight="normal" dy="1.2">-</tspan><tspan dy="-1.2">5</tspan></text>
</svg></body></html>
